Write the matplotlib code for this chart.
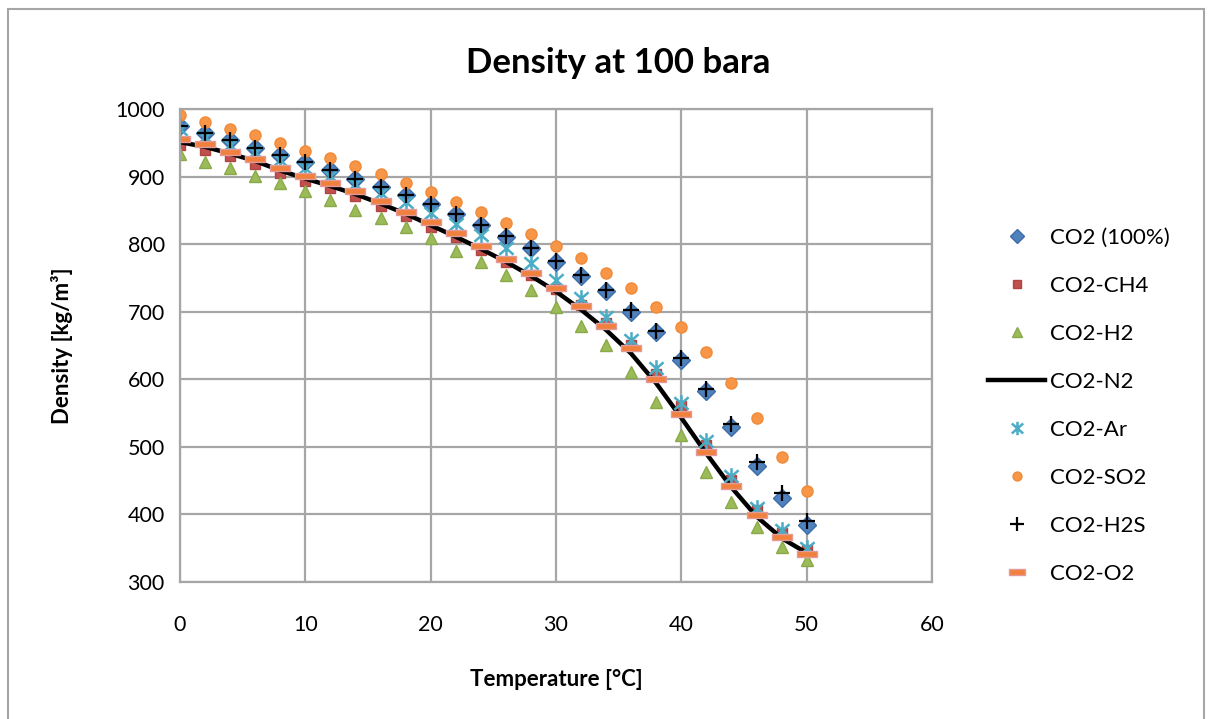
import matplotlib
matplotlib.use("Agg")
import matplotlib.pyplot as plt
from matplotlib.path import Path
from matplotlib.patches import Rectangle

plt.rcParams['font.family'] = ['Lato', 'DejaVu Sans']

temperature = [0, 2, 4, 6, 8, 10, 12, 14, 16, 18, 20, 22, 24, 26,
               28, 30, 32, 34, 36, 38, 40, 42, 44, 46, 48, 50]

co2_pure = [975, 964, 954, 943, 932, 921, 909, 897, 885, 873, 859, 845, 828, 811,
            794, 773, 753, 730, 700, 670, 629, 582, 530, 471, 424, 384]
co2_ch4 = [947, 940, 930, 919, 905, 894, 883, 871, 857, 842, 826, 810, 792, 774,
           755, 734, 710, 683, 651, 608, 560, 503, 451, 407, 372, 347]
co2_h2 = [934, 922, 912, 901, 890, 878, 865, 851, 838, 826, 809, 790, 774, 754,
          732, 707, 679, 651, 611, 567, 518, 463, 419, 382, 352, 333]
co2_n2 = [951, 944, 934, 923, 909, 897, 886, 874, 860, 845, 828, 811, 793, 774,
          753, 730, 703, 673, 638, 594, 543, 490, 440, 397, 365, 343]
co2_ar = [970, 958, 947, 936, 924, 913, 901, 889, 876, 862, 846, 830, 813, 794,
          772, 747, 721, 692, 658, 616, 565, 508, 457, 410, 377, 350]
co2_so2 = [991, 981, 971, 961, 949, 938, 928, 916, 904, 890, 877, 863, 848, 832,
           815, 797, 779, 758, 735, 707, 678, 640, 595, 542, 485, 435]
co2_h2s = [975, 964, 954, 943, 932, 921, 909, 897, 885, 873, 859, 845, 828, 812,
           795, 775, 755, 732, 702, 672, 632, 586, 534, 478, 431, 391]
co2_o2 = [955, 948, 937, 926, 912, 901, 890, 878, 864, 848, 833, 816, 797, 778,
          758, 735, 708, 679, 646, 600, 548, 492, 442, 399, 366, 342]

x_ticks = [0, 10, 20, 30, 40, 50, 60]
y_ticks = [300, 400, 500, 600, 700, 800, 900, 1000]

W, H = 1212, 719
fig = plt.figure(figsize=(W / 100, H / 100), dpi=100)
fig.patch.set_facecolor('white')

# chart frame
fig.patches.append(Rectangle((8 / W, -0.01), 1196 / W, 1 - 9 / H + 0.01,
                             transform=fig.transFigure, fill=False,
                             edgecolor='#a6a6a6', linewidth=1.5))

ax = fig.add_axes([180 / W, 1 - 582 / H, (932 - 180) / W, (582 - 109) / H])

grid_c = '#a6a6a6'
ax.set_xlim(0, 60)
ax.set_ylim(300, 1000)
ax.set_xticks(x_ticks)
ax.set_yticks(y_ticks)
ax.grid(True, color=grid_c, linewidth=1.6)
ax.set_axisbelow(True)
for s in ax.spines.values():
    s.set_color(grid_c)
    s.set_linewidth(1.6)
ax.tick_params(axis='both', length=0, labelsize=15.5, colors='black')
ax.tick_params(axis='x', pad=24)
ax.tick_params(axis='y', pad=11)

dash = Path([(-1, -0.32), (1, -0.32), (1, 0.32), (-1, 0.32), (-1, -0.32)],
            [Path.MOVETO, Path.LINETO, Path.LINETO, Path.LINETO, Path.CLOSEPOLY])
asterisk = Path([(0, -1), (0, 1), (-0.85, 0.75), (0.85, -0.75), (-0.85, -0.75), (0.85, 0.75)],
                [Path.MOVETO, Path.LINETO, Path.MOVETO, Path.LINETO, Path.MOVETO, Path.LINETO])

h = []
h += ax.plot(temperature, co2_pure, linestyle='none', marker='D', markersize=9,
             color='#4F81BD', markeredgecolor='#3C6DA8', label='CO2 (100%)')
h += ax.plot(temperature, co2_ch4, linestyle='none', marker='s', markersize=7.5,
             color='#C0504D', markeredgecolor='#B04542', label='CO2-CH4')
h += ax.plot(temperature, co2_h2, linestyle='none', marker='^', markersize=9,
             color='#9BBB59', markeredgecolor='#8AAA4A', label='CO2-H2')
h += ax.plot(temperature, co2_n2, linestyle='-', linewidth=3.2, color='black',
             label='CO2-N2')
h += ax.plot(temperature, co2_ar, linestyle='none', marker=asterisk, markersize=12,
             markerfacecolor='none', markeredgecolor='#4BACC6', markeredgewidth=1.8,
             label='CO2-Ar')
h += ax.plot(temperature, co2_so2, linestyle='none', marker='o', markersize=8,
             color='#F79646', markeredgecolor='#F08A38', label='CO2-SO2')
h += ax.plot(temperature, co2_h2s, linestyle='none', marker='+', markersize=12,
             markeredgewidth=1.6, color='black', label='CO2-H2S')
h += ax.plot(temperature, co2_o2, linestyle='none', marker=dash, markersize=15,
             markerfacecolor='#F0803C', markeredgecolor='#E39A9A', markeredgewidth=1.0,
             label='CO2-O2')

fig.text(618 / W, 1 - 63 / H, 'Density at 100 bara', fontsize=25, fontweight='bold',
         ha='center', va='center')
ax.set_xlabel('Temperature [°C]', fontsize=16, fontweight='bold', va='center')
ax.xaxis.set_label_coords(0.5, (582 - 680) / 473)
ax.set_ylabel('Density [kg/m³]', fontsize=16, fontweight='bold', va='center')
ax.yaxis.set_label_coords((62 - 180) / 752, 0.5)

leg = fig.legend(handles=h, loc='upper left', bbox_to_anchor=(988 / W, 1 - 228 / H),
                 frameon=False, fontsize=16, labelspacing=1.26, handlelength=2.57,
                 handletextpad=0.22, borderaxespad=0, borderpad=0, markerscale=0.8)

fig.savefig('out.png', dpi=100, facecolor='white')
